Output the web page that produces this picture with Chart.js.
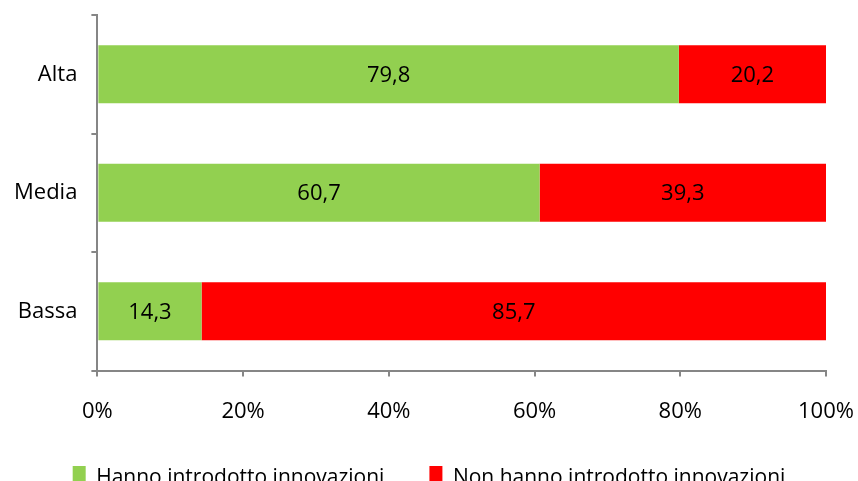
<!DOCTYPE html>
<html>
<head>
<meta charset="utf-8">
<script src="https://cdn.jsdelivr.net/npm/chart.js@4.4.1/dist/chart.umd.min.js"></script>
<style>
  html, body { margin: 0; padding: 0; background: #fff; overflow: hidden; }
  #wrap { width: 858px; height: 481px; overflow: hidden; position: relative; }
  #chart { position: absolute; left: 0; top: 0; }
</style>
</head>
<body>
<div id="wrap"><canvas id="chart" width="858" height="527"></canvas></div>
<script>
// categories and values (percent)
const categories = ["Alta", "Media", "Bassa"]
const innovated = [79.8, 60.7, 14.3]
const notInnovated = [20.2, 39.3, 85.7]
const seriesNames = ["Hanno introdotto innovazioni", "Non hanno introdotto innovazioni"]
const xTicks = [0, 20, 40, 60, 80, 100]

const FONT = "'Open Sans', sans-serif"
const SIZE = 22
const AXIS_GREY = "#868686"
const LEGEND_SHIFT = { x: 16, y: -26 }

// value labels inside bars, Italian decimal comma
const barLabels = {
  id: "barLabels",
  afterLayout(chart) {
    const lg = chart.legend
    if (!lg) return
    lg.left += LEGEND_SHIFT.x
    lg.right += LEGEND_SHIFT.x
    lg.top += LEGEND_SHIFT.y
    lg.bottom += LEGEND_SHIFT.y
  },
  afterDatasetsDraw(chart) {
    const ctx = chart.ctx
    ctx.save()
    ctx.font = SIZE + "px " + FONT
    ctx.fillStyle = "#000"
    ctx.textAlign = "center"
    ctx.textBaseline = "middle"
    chart.data.datasets.forEach((ds, i) => {
      chart.getDatasetMeta(i).data.forEach((bar, j) => {
        const p = bar.getCenterPoint()
        ctx.fillText(ds.data[j].toFixed(1).replace(".", ","), p.x, p.y + 1)
      })
    })
    ctx.restore()
  },
}

new Chart(document.getElementById("chart").getContext("2d"), {
  type: "bar",
  data: {
    labels: categories,
    datasets: [
      {
        label: seriesNames[0],
        data: innovated,
        backgroundColor: "#92D050",
        categoryPercentage: 1,
        barPercentage: 0.49,
      },
      {
        label: seriesNames[1],
        data: notInnovated,
        backgroundColor: "#FF0000",
        categoryPercentage: 1,
        barPercentage: 0.49,
      },
    ],
  },
  options: {
    indexAxis: "y",
    responsive: false,
    animation: false,
    layout: { padding: { top: 15, right: 32, left: 0, bottom: 0 } },
    plugins: {
      legend: {
        position: "bottom",
        labels: {
          font: { family: FONT, size: 21 },
          color: "#000",
          boxWidth: 13,
          boxHeight: 25,
          padding: 45,
          useBorderRadius: false,
        },
      },
      tooltip: { enabled: false },
    },
    scales: {
      x: {
        stacked: true,
        min: 0,
        max: 100,
        afterBuildTicks: (axis) => { axis.ticks = xTicks.map((v) => ({ value: v })) },
        afterFit: (axis) => { axis.paddingRight = 0 },
        ticks: {
          callback: (v) => v + "%",
          font: { family: FONT, size: SIZE },
          color: "#000",
          padding: 22,
        },
        grid: { drawOnChartArea: false, tickLength: 6, color: AXIS_GREY, lineWidth: 2 },
        border: { color: AXIS_GREY, width: 2 },
      },
      y: {
        stacked: true,
        afterFit: (axis) => { axis.paddingTop = 0; axis.paddingBottom = 0 },
        ticks: {
          font: { family: FONT, size: SIZE },
          color: "#000",
          padding: 14,
        },
        grid: { drawOnChartArea: false, tickLength: 6, color: AXIS_GREY, lineWidth: 2, offset: true },
        border: { color: AXIS_GREY, width: 2 },
      },
    },
  },
  plugins: [barLabels],
})
</script>
</body>
</html>
